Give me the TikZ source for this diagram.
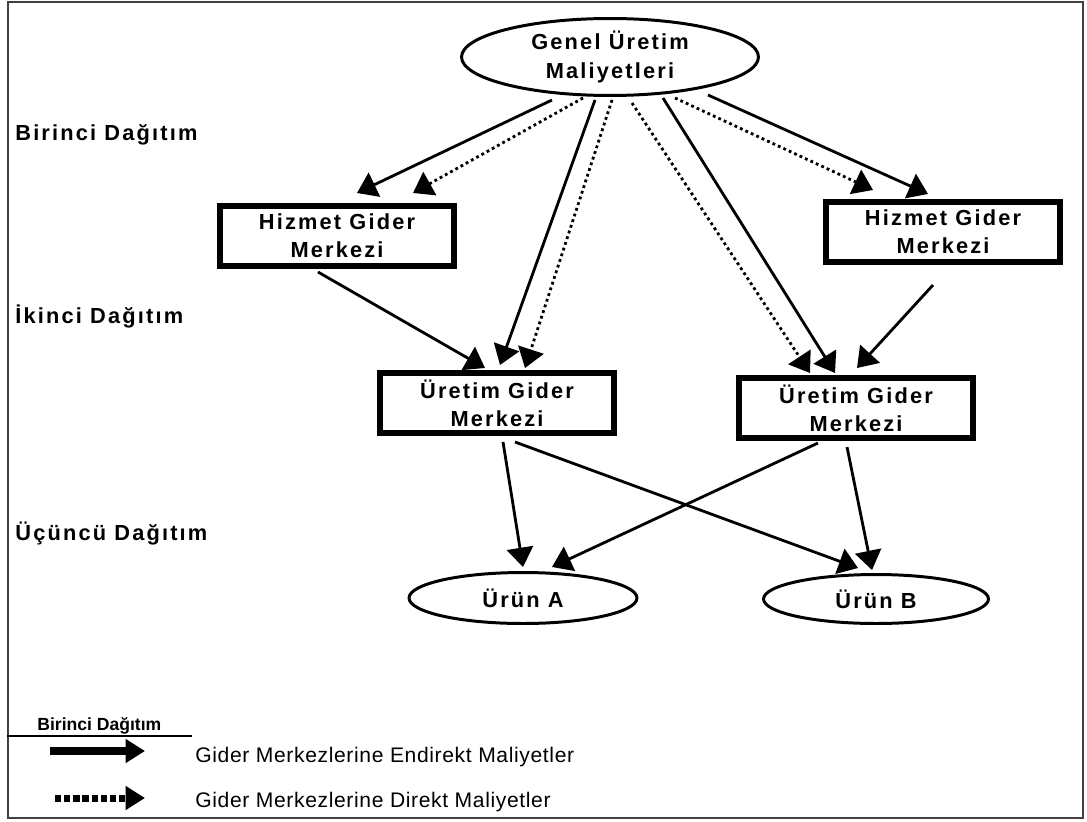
\documentclass[tikz,border=0pt]{standalone}
\usepackage{fontspec}
\setmainfont{Liberation Sans}
\newfontfamily\widefont[LetterSpace=10]{Liberation Sans}
\newfontfamily\legfont[LetterSpace=3]{Liberation Sans}
\usepackage{tikz}
\usetikzlibrary{arrows.meta,shapes.geometric,calc}

\tikzset{
  box/.style={draw, line width=3.4pt, minimum width=4.68cm, minimum height=1.2cm,
    inner sep=0pt, align=center, font=\widefont\bfseries\fontsize{12.4}{16}\selectfont},
  oval/.style={draw, ellipse, line width=1.7pt, inner sep=0pt, align=center,
    font=\widefont\bfseries\fontsize{12.4}{16}\selectfont},
  lvl/.style={anchor=base west, inner sep=0pt, font=\widefont\bfseries\fontsize{12.4}{14}\selectfont},
  legtext/.style={anchor=base west, inner sep=0pt, font=\legfont\fontsize{12}{14}\selectfont},
  ind/.style={line width=1.6pt, -{Triangle[length=11pt,width=15pt]}},
  dir/.style={ind, dash pattern=on 1.6pt off 1.8pt},
  legind/.style={line width=4pt, -{Triangle[length=11pt,width=13pt]}},
  legdir/.style={legind, dash pattern=on 3.6pt off 1.6pt}
}

\begin{document}
\begin{tikzpicture}[x=0.02cm, y=-0.02cm]
    \useasboundingbox (0,0) rectangle (1087,821);
    \draw[line width=0.9pt, black!75] (8,2) rectangle (1083,818);

    % levels
    \foreach \y/\txt [count=\i] in {140/Birinci Dağıtım, 323/İkinci Dağıtım, 540/Üçüncü Dağıtım}
        \node[lvl] (lvl\i) at (15,\y) {\txt};

    % nodes
    \node[oval, minimum width=5.94cm, minimum height=1.54cm] (gum) at (610,57) {Genel Üretim\\Maliyetleri};
    \node[box] (hgl) at (337,236) {Hizmet Gider\\Merkezi};
    \node[box] (hgr) at (943,232) {Hizmet Gider\\Merkezi};
    \node[box] (ugl) at (497,403) {Üretim Gider\\Merkezi};
    \node[box] (ugr) at (856,408) {Üretim Gider\\Merkezi};
    \node[oval, minimum width=4.56cm, minimum height=1.02cm] (ua) at (523,598) {Ürün A};
    \node[oval, minimum width=4.5cm, minimum height=0.98cm] (ub) at (876,599) {Ürün B};

    % first allocation
    \draw[ind] ($(gum)+(-58,43)$) -- ($(hgl)+(20,-43)$);
    \draw[dir] ($(gum)+(-27,41)$) -- ($(hgl)+(76,-43)$);
    \draw[ind] ($(gum)+(-15,43)$) -- ($(ugl)+(3,-38)$);
    \draw[dir] ($(gum)+(2,43)$) -- ($(ugl)+(28,-35)$);
    \draw[dir] ($(gum)+(22,46)$) -- ($(ugr)+(-46,-35)$);
    \draw[ind] ($(gum)+(53,41)$) -- ($(ugr)+(-21,-35)$);
    \draw[dir] ($(gum)+(65,41)$) -- ($(hgr)+(-70,-42)$);
    \draw[ind] ($(gum)+(98,38)$) -- ($(hgr)+(-15,-38)$);

    % second allocation
    \draw[ind] ($(hgl)+(-19,36)$) -- ($(ugl)+(-12,-35)$);
    \draw[ind] ($(hgr)+(-10,53)$) -- ($(ugr)+(1,-40)$);

    % third allocation
    \draw[ind] ($(ugl)+(6,39)$) -- ($(ua)+(0,-31)$);
    \draw[ind] ($(ugl)+(18,39)$) -- ($(ub)+(-18,-31)$);
    \draw[ind] ($(ugr)+(-38,35)$) -- ($(ua)+(29,-31)$);
    \draw[ind] ($(ugr)+(-9,39)$) -- ($(ub)+(-4,-29)$);

    % legend
    \node[anchor=base west, inner sep=0pt, font=\bfseries\fontsize{10}{12}\selectfont] (legtitle) at (37,730) {Birinci Dağıtım};
    \coordinate (rule1) at (7,736);
    \coordinate (rule2) at (192,736);
    \draw[line width=1.1pt] (rule1) -- (rule2);
    \node[legtext] (legi) at (195,762) {Gider Merkezlerine Endirekt Maliyetler};
    \node[legtext] (legd) at (195,807) {Gider Merkezlerine Direkt Maliyetler};
    \coordinate (ia) at (50,751);
    \coordinate (ib) at (145,751);
    \coordinate (da) at (55,798);
    \coordinate (db) at (145,798);
    \draw[legind] (ia) -- (ib);
    \draw[legdir] (da) -- (db);
\end{tikzpicture}
\end{document}
